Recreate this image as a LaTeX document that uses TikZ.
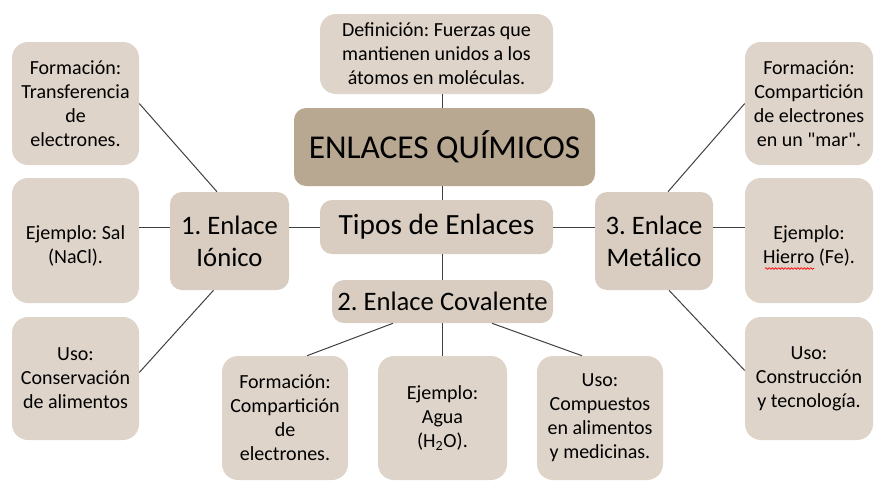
\documentclass[tikz,border=0pt]{standalone}
\usepackage{fontspec}
\setmainfont{Carlito}
\usetikzlibrary{calc,decorations.pathmorphing}
\definecolor{lightbox}{HTML}{DED4CA}
\definecolor{midbox}{HTML}{D8CDC0}
\definecolor{darkbox}{HTML}{B8A791}
\definecolor{linecol}{HTML}{404040}
\frenchspacing
\newcommand{\straightquote}{\XeTeXglyph\XeTeXcharglyph"22\relax}
\newcommand{\lowerstrut}{\rule{0pt}{18pt}}
\begin{document}
\begin{tikzpicture}[x=0.75pt,y=-0.75pt,
  sz/.style 2 args={minimum width=#1*0.75pt, minimum height=#2*0.75pt},
  smallbox/.style={rectangle, rounded corners=12pt, fill=lightbox, draw=none, align=center, inner sep=0pt, text=black, font=\fontsize{15}{18}\selectfont},
  midnode/.style={rectangle, rounded corners=9pt, fill=midbox, draw=none, align=center, inner sep=0pt, text=black, font=\fontsize{20}{24}\selectfont},
  titlebox/.style={rectangle, rounded corners=9pt, fill=darkbox, draw=none, align=center, inner sep=0pt, text=black, font=\fontsize{25}{30}\selectfont},
  conn/.style={draw=linecol, line width=0.75pt},
  spell/.style={draw=red, line width=0.5pt, decorate, decoration={snake, amplitude=0.6pt, segment length=2.4pt}}
]
\useasboundingbox (0,0) rectangle (889,497);

% center column
\node[smallbox, sz={233}{80}] (def) at (436.5,54) {Definición: Fuerzas que\\mantienen unidos a los\\átomos en moléculas.};
\node[titlebox, sz={301}{78}] (title) at (444.5,147) {ENLACES QUÍMICOS};
\node[midnode, sz={233}{54}, font=\fontsize{22}{26}\selectfont] (tipos) at (436.5,227) {Tipos de Enlaces};
\node[midnode, sz={221}{43}] (cov) at (442.5,301.5) {2. Enlace Covalente};
\node[midnode, sz={119}{98}] (ion) at (229.5,241) {1. Enlace\\Iónico};
\node[midnode, sz={118}{98}] (met) at (654,241) {3. Enlace\\Metálico};

% left column
\node[smallbox, sz={127}{123}] (L1) at (75.5,103.5) {Formación:\\Transferencia\\de\\electrones.};
\node[smallbox, sz={127}{125}] (L2) at (75.5,240.5) {\lowerstrut Ejemplo: Sal\\(NaCl).};
\node[smallbox, sz={127}{123}] (L3) at (75.5,378.5) {Uso:\\Conservación\\de alimentos};

% right column
\node[smallbox, sz={128}{123}] (R1) at (809,103.5) {Formación:\\Compartición\\de electrones\\en un \straightquote mar\straightquote.};
\node[smallbox, sz={128}{125}] (R2) at (809,240.5) {\lowerstrut Ejemplo:\\Hierro (Fe).};
\node[smallbox, sz={128}{123}] (R3) at (809,378.5) {Uso:\\Construcción\\y tecnología.};

% bottom row
\node[smallbox, sz={126}{124}] (B1) at (285,418) {Formación:\\Compartición\\de\\electrones.};
\node[smallbox, sz={129}{124}] (B2) at (442.5,418) {Ejemplo:\\Agua\\(H\textsubscript{2}O).};
\node[smallbox, sz={126}{124}] (B3) at (600,418) {Uso:\\Compuestos\\en alimentos\\y medicinas.};

% connectors
\draw[conn] (def.south -| cov) -- (title.north -| cov);
\draw[conn] (title.south -| cov) -- (tipos.north -| cov);
\draw[conn] (tipos.south -| cov) -- (cov.north);
\draw[conn] (tipos.west) -- (tipos.west -| ion.east);
\draw[conn] (tipos.east) -- (tipos.east -| met.west);
\draw[conn] (L2.east |- tipos) -- (ion.west |- tipos);
\draw[conn] (met.east |- tipos) -- (R2.west |- tipos);
\draw[conn] (L1.east) -- ($(ion.north)+(-12.5,0)$);
\draw[conn] ($(L3.east)+(0,-6)$) -- ($(ion.south)+(-16,0)$);
\draw[conn] (R1.west) -- ($(met.north)+(14,0)$);
\draw[conn] ($(R3.west)+(0,-8)$) -- ($(met.south)+(15,0)$);
\draw[conn] ($(cov.south)+(-49.5,0)$) -- ($(B1.north)+(22,0)$);
\draw[conn] (cov.south) -- (B2.north);
\draw[conn] ($(cov.south)+(49.5,0)$) -- ($(B3.north)+(-18,0)$);

% spell-check squiggle under "Hierro"
\coordinate (sqA) at ($(R2.center)+(-44,28)$);
\coordinate (sqB) at ($(R2.center)+(5,28)$);
\draw[spell] (sqA) -- (sqB);
\end{tikzpicture}
\end{document}
